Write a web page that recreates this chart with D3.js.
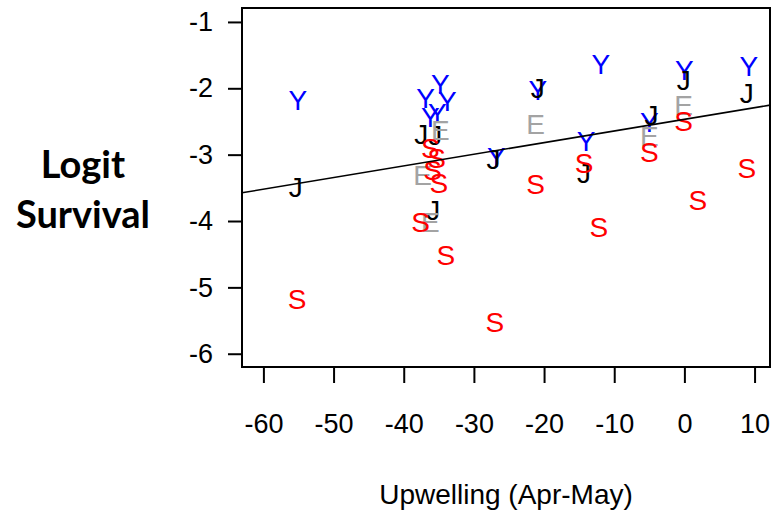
<!DOCTYPE html>
<html>
<head>
<meta charset="utf-8">
<script src="https://cdn.jsdelivr.net/npm/d3@7"></script>
<style>
  html, body { margin: 0; padding: 0; background: #fff; }
  svg { display: block; }
</style>
</head>
<body>
<svg id="chart" width="774" height="510"></svg>
<script>
// ---- Data ----
const groups = ["Y", "J", "E", "S"];
const groupColors = ["#0000FF", "#000000", "#A3A3A3", "#FF0000"];

const yUpwelling = [-55.1, -36.9, -34.8, -33.8, -36.2, -35.2, -26.8, -20.9, -11.9, -14.0, -5.0, 0.0, 9.2];
const yLogit     = [-2.17, -2.14, -1.93, -2.19, -2.43, -2.37, -3.03, -2.02, -1.63, -2.79, -2.51, -1.72, -1.66];

const jUpwelling = [-55.4, -37.5, -35.5, -35.8, -27.2, -20.9, -14.3, -4.7, -0.1, 8.9];
const jLogit     = [-3.48, -2.69, -2.70, -3.83, -3.06, -1.99, -3.27, -2.40, -1.87, -2.07];

const eUpwelling = [-34.8, -37.3, -36.2, -21.2, -5.0, -0.1];
const eLogit     = [-2.63, -3.30, -4.01, -2.54, -2.72, -2.25];

const sUpwelling = [-55.2, -36.2, -35.3, -35.9, -35.0, -37.6, -34.0, -27.0, -21.2, -14.3, -12.2, -5.0, -0.1, 1.9, 8.9];
const sLogit     = [-5.17, -2.90, -3.05, -3.23, -3.42, -4.01, -4.51, -5.52, -3.44, -3.12, -4.09, -2.96, -2.49, -3.68, -3.20];

const fitIntercept = -2.468;
const fitSlope = 0.01755;

const xTicks = [-60, -50, -40, -30, -20, -10, 0, 10];
const yTicks = [-1, -2, -3, -4, -5, -6];

const xTitle = "Upwelling (Apr-May)";
const yTitleLines = ["Logit", "Survival"];

// ---- Build point table ----
const seriesX = [yUpwelling, jUpwelling, eUpwelling, sUpwelling];
const seriesY = [yLogit, jLogit, eLogit, sLogit];
const points = [];
groups.forEach((g, gi) => {
  seriesX[gi].forEach((xv, i) => points.push({ g, color: groupColors[gi], x: xv, y: seriesY[gi][i] }));
});

// ---- Layout ----
const svg = d3.select("#chart");
const plot = { left: 242, right: 770, top: 8, bottom: 367 };

const x = d3.scaleLinear().domain([-63.05, 12.2]).range([plot.left, plot.right]);
const y = d3.scaleLinear().domain([-0.79, -6.2]).range([plot.top, plot.bottom]);

// Points (letters)
svg.append("g").selectAll("text")
  .data(points)
  .join("text")
  .attr("x", d => x(d.x))
  .attr("y", d => y(d.y))
  .attr("dy", "0.36em")
  .attr("text-anchor", "middle")
  .attr("font-family", "'Liberation Sans', Arial, sans-serif")
  .attr("font-size", 28)
  .attr("fill", d => d.color)
  .text(d => d.g);

// Regression line
const xd = x.domain();
svg.append("line")
  .attr("x1", x(xd[0])).attr("y1", y(fitIntercept + fitSlope * xd[0]))
  .attr("x2", x(xd[1])).attr("y2", y(fitIntercept + fitSlope * xd[1]))
  .attr("stroke", "#000").attr("stroke-width", 1.6);

// Box
svg.append("rect")
  .attr("x", plot.left).attr("y", plot.top)
  .attr("width", plot.right - plot.left).attr("height", plot.bottom - plot.top)
  .attr("fill", "none").attr("stroke", "#000").attr("stroke-width", 2);

// Axes
const xAxis = svg.append("g")
  .attr("transform", `translate(0,${plot.bottom})`)
  .call(d3.axisBottom(x).tickValues(xTicks).tickFormat(d3.format("d")).tickSize(16).tickPadding(31).tickSizeOuter(0));
const yAxis = svg.append("g")
  .attr("transform", `translate(${plot.left},0)`)
  .call(d3.axisLeft(y).tickValues(yTicks).tickFormat(d3.format("d")).tickSize(14).tickPadding(15).tickSizeOuter(0));

[xAxis, yAxis].forEach(a => {
  a.select(".domain").remove();
  a.selectAll(".tick line").attr("stroke", "#000").attr("stroke-width", 2);
  a.selectAll(".tick text")
    .attr("fill", "#000")
    .attr("font-family", "'Liberation Sans', Arial, sans-serif")
    .attr("font-size", 27)
    .text(d => d < 0 ? "-" + Math.abs(d) : String(d));
});

// Axis titles
svg.append("text")
  .attr("x", (plot.left + plot.right) / 2)
  .attr("y", 504)
  .attr("text-anchor", "middle")
  .attr("font-family", "'Liberation Sans', Arial, sans-serif")
  .attr("font-size", 28)
  .attr("fill", "#000")
  .text(xTitle);

svg.append("g").selectAll("text")
  .data(yTitleLines)
  .join("text")
  .attr("x", 83)
  .attr("y", (d, i) => 178 + i * 50)
  .attr("text-anchor", "middle")
  .attr("font-family", "Lato, 'Open Sans', sans-serif")
  .attr("font-weight", "bold")
  .attr("font-size", 38)
  .attr("fill", "#000")
  .text(d => d);
</script>
</body>
</html>
